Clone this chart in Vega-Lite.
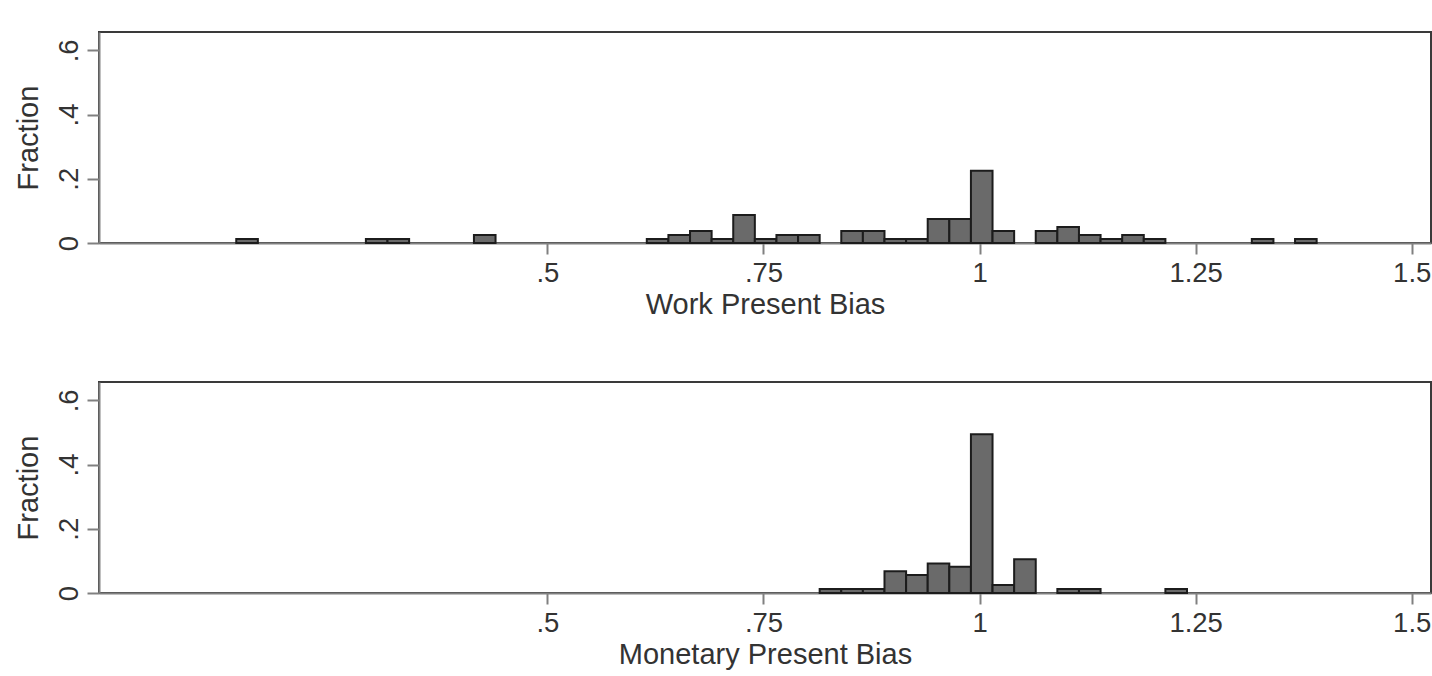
{
  "$schema": "https://vega.github.io/schema/vega-lite/v6.json",
  "background": "white",
  "padding": {"left": 13, "top": 31, "right": 0, "bottom": 0},
  "spacing": 60,
  "datasets": {
    "work": [
      {"lo": 0.14, "hi": 0.165, "frac": 0.0125},
      {"lo": 0.29, "hi": 0.315, "frac": 0.0125},
      {"lo": 0.315, "hi": 0.34, "frac": 0.0125},
      {"lo": 0.415, "hi": 0.44, "frac": 0.025},
      {"lo": 0.615, "hi": 0.64, "frac": 0.0125},
      {"lo": 0.64, "hi": 0.665, "frac": 0.025},
      {"lo": 0.665, "hi": 0.69, "frac": 0.0375},
      {"lo": 0.69, "hi": 0.715, "frac": 0.0125},
      {"lo": 0.715, "hi": 0.74, "frac": 0.0875},
      {"lo": 0.74, "hi": 0.765, "frac": 0.0125},
      {"lo": 0.765, "hi": 0.79, "frac": 0.025},
      {"lo": 0.79, "hi": 0.815, "frac": 0.025},
      {"lo": 0.84, "hi": 0.865, "frac": 0.0375},
      {"lo": 0.865, "hi": 0.89, "frac": 0.0375},
      {"lo": 0.89, "hi": 0.915, "frac": 0.0125},
      {"lo": 0.915, "hi": 0.94, "frac": 0.0125},
      {"lo": 0.94, "hi": 0.965, "frac": 0.075},
      {"lo": 0.965, "hi": 0.99, "frac": 0.075},
      {"lo": 0.99, "hi": 1.015, "frac": 0.225},
      {"lo": 1.015, "hi": 1.04, "frac": 0.0375},
      {"lo": 1.065, "hi": 1.09, "frac": 0.0375},
      {"lo": 1.09, "hi": 1.115, "frac": 0.05},
      {"lo": 1.115, "hi": 1.14, "frac": 0.025},
      {"lo": 1.14, "hi": 1.165, "frac": 0.0125},
      {"lo": 1.165, "hi": 1.19, "frac": 0.025},
      {"lo": 1.19, "hi": 1.215, "frac": 0.0125},
      {"lo": 1.315, "hi": 1.34, "frac": 0.0125},
      {"lo": 1.365, "hi": 1.39, "frac": 0.0125}
    ],
    "monetary": [
      {"lo": 0.815, "hi": 0.84, "frac": 0.0125},
      {"lo": 0.84, "hi": 0.865, "frac": 0.0125},
      {"lo": 0.865, "hi": 0.89, "frac": 0.0125},
      {"lo": 0.89, "hi": 0.915, "frac": 0.068},
      {"lo": 0.915, "hi": 0.94, "frac": 0.056},
      {"lo": 0.94, "hi": 0.965, "frac": 0.092},
      {"lo": 0.965, "hi": 0.99, "frac": 0.082},
      {"lo": 0.99, "hi": 1.015, "frac": 0.494},
      {"lo": 1.015, "hi": 1.04, "frac": 0.025},
      {"lo": 1.04, "hi": 1.065, "frac": 0.105},
      {"lo": 1.09, "hi": 1.115, "frac": 0.0125},
      {"lo": 1.115, "hi": 1.14, "frac": 0.0125},
      {"lo": 1.215, "hi": 1.24, "frac": 0.0125}
    ]
  },
  "config": {
    "font": "Liberation Sans",
    "view": {"stroke": "#3a3a3a", "strokeWidth": 2},
    "axis": {
      "grid": false,
      "domainColor": "#808080",
      "domainWidth": 2,
      "tickColor": "#808080",
      "tickWidth": 2,
      "tickSize": 11,
      "labelColor": "#333333",
      "labelFont": "Liberation Sans",
      "labelFontSize": 27.5,
      "labelOverlap": false,
      "labelFlush": false,
      "titleFont": "Liberation Sans",
      "titleFontSize": 29,
      "titleFontWeight": "normal",
      "titleColor": "#333333"
    }
  },
  "vconcat": [
    {
      "width": 1332,
      "height": 211,
      "data": {"name": "work"},
      "mark": {"type": "rect", "fill": "#6a6a6a", "stroke": "#1c1c1c", "strokeWidth": 2},
      "encoding": {
        "x": {
          "field": "lo", "type": "quantitative", "title": "Work Present Bias",
          "scale": {"domain": [-0.0188, 1.5223], "nice": false, "zero": false},
          "axis": {"values": [0.5, 0.75, 1, 1.25, 1.5], "labelPadding": 5, "titlePadding": 4,
            "labelExpr": "datum.value > 0 && datum.value < 1 ? slice(format(datum.value, '~g'), 1) : format(datum.value, '~g')"}
        },
        "x2": {"field": "hi"},
        "y": {
          "field": "frac", "type": "quantitative", "title": "Fraction",
          "scale": {"domain": [0, 0.657], "nice": false},
          "axis": {"values": [0, 0.2, 0.4, 0.6], "tickSize": 12, "labelAngle": 270, "labelAlign": "center", "labelBaseline": "bottom", "labelPadding": 4, "titlePadding": 12,
            "labelExpr": "datum.value > 0 && datum.value < 1 ? slice(format(datum.value, '~g'), 1) : format(datum.value, '~g')"}
        },
        "y2": {"datum": 0}
      }
    },
    {
      "width": 1332,
      "height": 211,
      "data": {"name": "monetary"},
      "mark": {"type": "rect", "fill": "#6a6a6a", "stroke": "#1c1c1c", "strokeWidth": 2},
      "encoding": {
        "x": {
          "field": "lo", "type": "quantitative", "title": "Monetary Present Bias",
          "scale": {"domain": [-0.0188, 1.5223], "nice": false, "zero": false},
          "axis": {"values": [0.5, 0.75, 1, 1.25, 1.5], "labelPadding": 5, "titlePadding": 4,
            "labelExpr": "datum.value > 0 && datum.value < 1 ? slice(format(datum.value, '~g'), 1) : format(datum.value, '~g')"}
        },
        "x2": {"field": "hi"},
        "y": {
          "field": "frac", "type": "quantitative", "title": "Fraction",
          "scale": {"domain": [0, 0.657], "nice": false},
          "axis": {"values": [0, 0.2, 0.4, 0.6], "tickSize": 12, "labelAngle": 270, "labelAlign": "center", "labelBaseline": "bottom", "labelPadding": 4, "titlePadding": 12,
            "labelExpr": "datum.value > 0 && datum.value < 1 ? slice(format(datum.value, '~g'), 1) : format(datum.value, '~g')"}
        },
        "y2": {"datum": 0}
      }
    }
  ]
}
